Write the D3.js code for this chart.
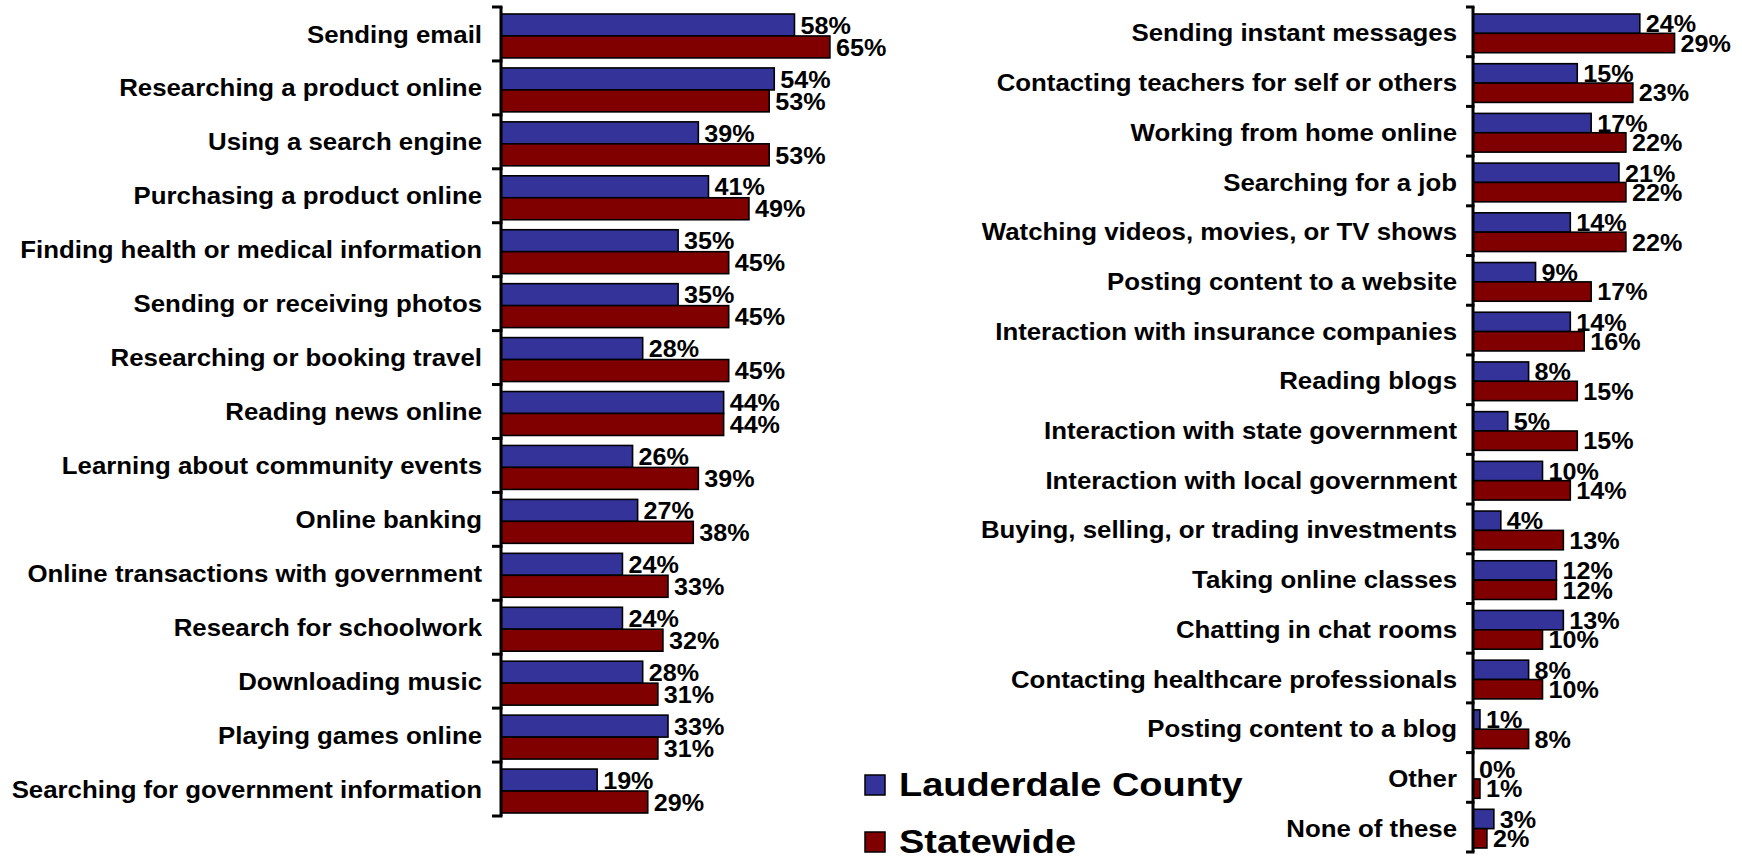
<!DOCTYPE html>
<html>
<head>
<meta charset="utf-8">
<script src="https://cdn.jsdelivr.net/npm/d3@7"></script>
<style>
  html, body { margin: 0; padding: 0; background: #fff; }
  text { font-family: "Liberation Sans", Arial, sans-serif; font-weight: bold; fill: #000; }
</style>
</head>
<body>
<svg id="chart" width="1742" height="861"></svg>
<script>
'use strict';
const seriesNames = ['Lauderdale County', 'Statewide'];
const seriesColors = ['#333399', '#800000'];

const leftCategories = [
  'Sending email', 'Researching a product online', 'Using a search engine',
  'Purchasing a product online', 'Finding health or medical information',
  'Sending or receiving photos', 'Researching or booking travel', 'Reading news online',
  'Learning about community events', 'Online banking', 'Online transactions with government',
  'Research for schoolwork', 'Downloading music', 'Playing games online',
  'Searching for government information'
];
const leftCounty = [58, 54, 39, 41, 35, 35, 28, 44, 26, 27, 24, 24, 28, 33, 19];
const leftState = [65, 53, 53, 49, 45, 45, 45, 44, 39, 38, 33, 32, 31, 31, 29];

const rightCategories = [
  'Sending instant messages', 'Contacting teachers for self or others', 'Working from home online',
  'Searching for a job', 'Watching videos, movies, or TV shows', 'Posting content to a website',
  'Interaction with insurance companies', 'Reading blogs', 'Interaction with state government',
  'Interaction with local government', 'Buying, selling, or trading investments',
  'Taking online classes', 'Chatting in chat rooms', 'Contacting healthcare professionals',
  'Posting content to a blog', 'Other', 'None of these'
];
const rightCounty = [24, 15, 17, 21, 14, 9, 14, 8, 5, 10, 4, 12, 13, 8, 1, 0, 3];
const rightState = [29, 23, 22, 22, 22, 17, 16, 15, 15, 14, 13, 12, 10, 10, 8, 1, 2];

const svg = d3.select('#chart');

// text drawn a bit wider than the font, like the original export
function wideText(sel, x, y, sx) {
  return sel.attr('transform', 'translate(' + x + ',' + y + ') scale(' + sx + ',1)');
}

function drawPanel(cfg) {
  const g = svg.append('g');
  const y = d3.scaleBand().domain(cfg.categories).range([cfg.top, cfg.bottom]).paddingInner(0).paddingOuter(0);
  const x = d3.scaleLinear().domain([0, 100]).range([cfg.axisX, cfg.axisX + cfg.pxPer100]);
  const sub = d3.scaleBand().domain([0, 1]).range([cfg.barTop, y.bandwidth() - cfg.barBottom]).padding(0);

  const rows = cfg.categories.map((c, i) => ({ cat: c, vals: [cfg.county[i], cfg.state[i]] }));

  const grp = g.selectAll('.cat').data(rows).join('g')
    .attr('transform', d => 'translate(0,' + y(d.cat) + ')');

  grp.selectAll('rect').data(d => d.vals).join('rect')
    .attr('x', x(0))
    .attr('y', (d, i) => sub(i))
    .attr('width', d => x(d) - x(0))
    .attr('height', sub.bandwidth())
    .attr('fill', (d, i) => seriesColors[i])
    .attr('stroke', '#000')
    .attr('stroke-width', 1.6);

  grp.selectAll('text.val').data(d => d.vals).join('text')
    .attr('class', 'val')
    .attr('transform', (d, i) => 'translate(' + (x(d) + cfg.valGap) + ',' + (sub(i) + sub.bandwidth() / 2) + ') scale(' + cfg.valScale + ',1)')
    .attr('dy', '0.36em')
    .style('font-size', cfg.valFs + 'px')
    .text(d => d + '%');

  grp.append('text')
    .attr('class', 'cat')
    .call(wideText, cfg.axisX - cfg.labelGap, y.bandwidth() / 2 + cfg.labelShift, cfg.labelScale)
    .attr('dy', '0.36em')
    .attr('text-anchor', 'end')
    .style('font-size', cfg.fs + 'px')
    .text(d => d.cat);

  // axis line and ticks at category boundaries
  g.append('line')
    .attr('x1', cfg.axisX).attr('x2', cfg.axisX)
    .attr('y1', cfg.top).attr('y2', cfg.bottom)
    .attr('stroke', '#000').attr('stroke-width', 3);
  const bounds = d3.range(cfg.categories.length + 1).map(i => cfg.top + i * y.step());
  g.selectAll('line.tick').data(bounds).join('line')
    .attr('class', 'tick')
    .attr('x1', cfg.axisX - cfg.tickLen).attr('x2', cfg.axisX + 1.5)
    .attr('y1', d => d).attr('y2', d => d)
    .attr('stroke', '#000').attr('stroke-width', 3);
}

drawPanel({
  categories: leftCategories, county: leftCounty, state: leftState,
  top: 7, bottom: 816, axisX: 501, pxPer100: 506,
  barTop: 7, barBottom: 3, valGap: 6, labelGap: 19, labelShift: 0,
  fs: 23.7, valFs: 24.2, labelScale: 1.09, valScale: 1.04, tickLen: 9
});

drawPanel({
  categories: rightCategories, county: rightCounty, state: rightState,
  top: 7, bottom: 852, axisX: 1473, pxPer100: 695,
  barTop: 7, barBottom: 4, valGap: 6, labelGap: 16, labelShift: 1,
  fs: 23.7, valFs: 24.2, labelScale: 1.09, valScale: 1.04, tickLen: 7
});

// legend
const legend = svg.append('g').attr('transform', 'translate(865,775)');
const li = legend.selectAll('g').data(seriesNames).join('g')
  .attr('transform', (d, i) => 'translate(0,' + (i * 57) + ')');
li.append('rect')
  .attr('width', 20).attr('height', 20)
  .attr('fill', (d, i) => seriesColors[i])
  .attr('stroke', '#000').attr('stroke-width', 1.5);
li.append('text')
  .call(wideText, 34, 21, 1.15)
  .style('font-size', '33px')
  .text(d => d);
</script>
</body>
</html>
